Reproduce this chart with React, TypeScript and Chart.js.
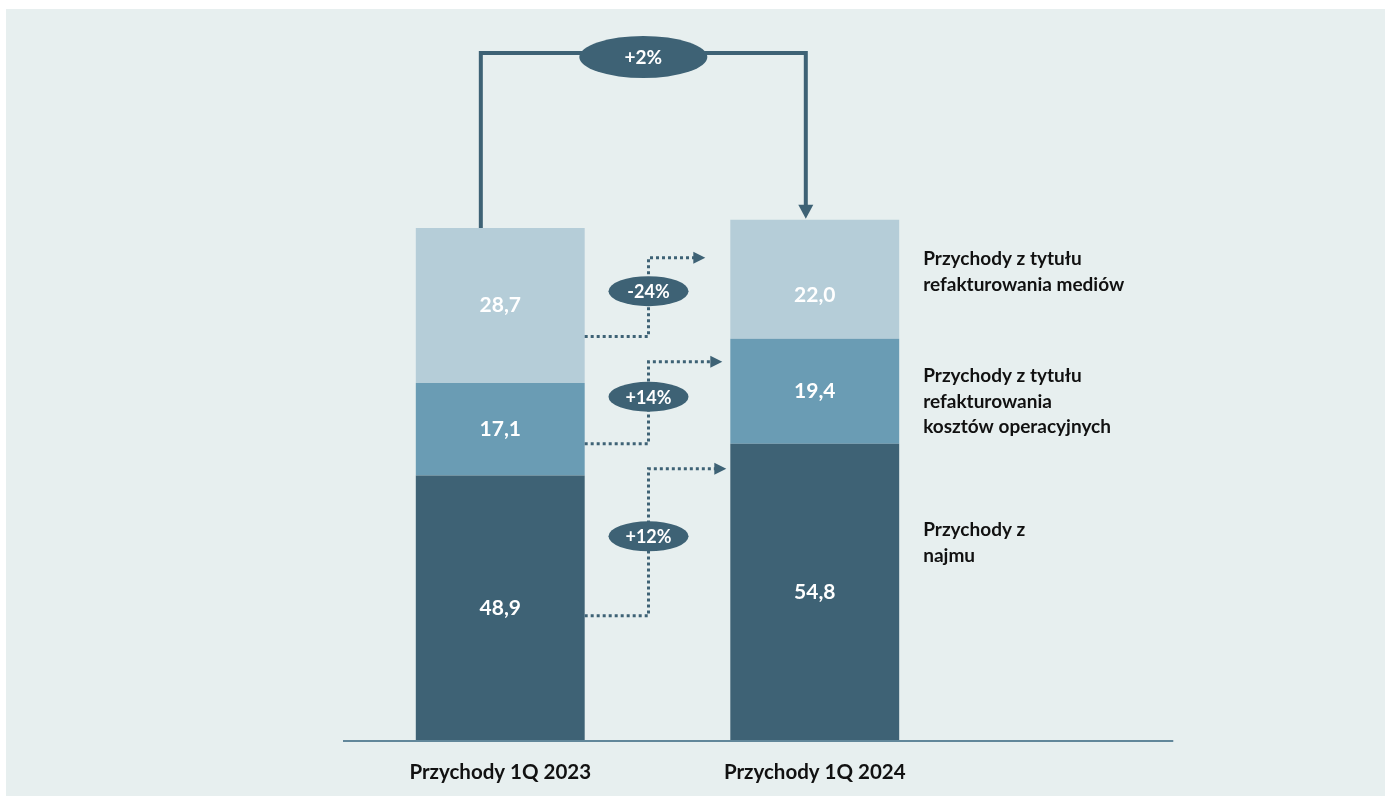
import React, { useEffect, useRef } from 'react';
import { Chart, registerables } from 'chart.js';

Chart.register(...registerables);

// ---- data ----
const categories = ['Przychody 1Q 2023', 'Przychody 1Q 2024'];
const seriesNames = [
  'Przychody z najmu',
  'Przychody z tytułu refakturowania kosztów operacyjnych',
  'Przychody z tytułu refakturowania mediów',
];
const seriesLabelLines = [
  ['Przychody z', 'najmu'],
  ['Przychody z tytułu', 'refakturowania', 'kosztów operacyjnych'],
  ['Przychody z tytułu', 'refakturowania mediów'],
];
const najmu = [48.9, 54.8];
const kosztyOperacyjne = [17.1, 19.4];
const media = [28.7, 22.0];
const seriesChanges = ['+12%', '+14%', '-24%'];
const totalChange = '+2%';
const yMax = 130;

// ---- style ----
const DARK = '#3e6275';
const MID = '#6a9cb4';
const LIGHT = '#b5cdd8';
const PANEL = '#e7efef';
const FONT = 'Lato, "Open Sans", sans-serif';

const fmt = (v: number) => v.toFixed(1).replace('.', ',');

const annotatePlugin = {
  id: 'annotate',
  afterDatasetsDraw(chart: any, _args: any, opts: any) {
    const ctx: CanvasRenderingContext2D = chart.ctx;
    const ys = chart.scales.y;
    const area = chart.chartArea;
    const n = chart.data.datasets.length;
    const bar = (d: number, i: number) =>
      chart.getDatasetMeta(d).data[i].getProps(['x', 'y', 'base', 'width'], true);

    ctx.save();

    // baseline (axis line)
    const y0 = ys.getPixelForValue(0);
    const catW = (area.right - area.left) / chart.data.labels.length;
    ctx.strokeStyle = opts.axisColor;
    ctx.lineWidth = 2;
    ctx.beginPath();
    ctx.moveTo(area.left, y0 + 1);
    ctx.lineTo(area.right + catW * opts.axisExtend, y0 + 1);
    ctx.stroke();

    // value labels
    ctx.fillStyle = '#ffffff';
    ctx.font = `bold 21px ${FONT}`;
    ctx.textAlign = 'center';
    ctx.textBaseline = 'middle';
    for (let d = 0; d < n; d++) {
      const values = chart.data.datasets[d].data;
      for (let i = 0; i < values.length; i++) {
        const b = bar(d, i);
        const shift = opts.labelShift[`${d}-${i}`] || 0;
        ctx.fillText(fmt(values[i]), b.x, (b.y + b.base) / 2 + shift);
      }
    }

    // total connector
    const t1 = bar(n - 1, 0);
    const t2 = bar(n - 1, 1);
    const lx = t1.x - t1.width * 0.115;
    const rx = t2.x - t2.width * 0.053;
    const ty = area.top + 16;
    ctx.strokeStyle = DARK;
    ctx.fillStyle = DARK;
    ctx.lineWidth = 4;
    ctx.lineJoin = 'miter';
    ctx.beginPath();
    ctx.moveTo(lx, t1.y);
    ctx.lineTo(lx, ty);
    ctx.lineTo(rx, ty);
    ctx.lineTo(rx, t2.y - 14);
    ctx.stroke();
    ctx.beginPath();
    ctx.moveTo(rx - 7.5, t2.y - 15);
    ctx.lineTo(rx + 7.5, t2.y - 15);
    ctx.lineTo(rx, t2.y - 1);
    ctx.closePath();
    ctx.fill();
    const ex0 = (lx + rx) / 2;
    ctx.beginPath();
    ctx.ellipse(ex0, ty + 4, 64, 21, 0, 0, Math.PI * 2);
    ctx.fill();
    ctx.fillStyle = '#ffffff';
    ctx.font = `bold 19px ${FONT}`;
    ctx.fillText(opts.total, ex0, ty + 5);

    // per-series connectors
    for (let d = 0; d < n; d++) {
      const a = bar(d, 0);
      const b = bar(d, 1);
      const sy = a.base + (a.y - a.base) * opts.fromFrac[d];
      const ey = b.base + (b.y - b.base) * opts.toFrac[d];
      const sx = a.x + a.width / 2;
      const bLeft = b.x - b.width / 2;
      const tip = bLeft - opts.tipGap[d];
      const vx = (sx + bLeft) / 2 - 9;
      ctx.strokeStyle = DARK;
      ctx.fillStyle = DARK;
      ctx.lineWidth = 3;
      ctx.setLineDash([3, 3]);
      ctx.beginPath();
      ctx.moveTo(sx, sy);
      ctx.lineTo(vx, sy);
      ctx.lineTo(vx, ey);
      ctx.lineTo(tip - 11, ey);
      ctx.stroke();
      ctx.setLineDash([]);
      ctx.beginPath();
      ctx.moveTo(tip - 12, ey - 6);
      ctx.lineTo(tip - 12, ey + 6);
      ctx.lineTo(tip, ey);
      ctx.closePath();
      ctx.fill();
      const ecy = (sy + ey) / 2 - 6;
      ctx.beginPath();
      ctx.ellipse(vx, ecy, 40, 15, 0, 0, Math.PI * 2);
      ctx.fill();
      ctx.fillStyle = '#ffffff';
      ctx.font = `bold 18px ${FONT}`;
      ctx.textAlign = 'center';
      ctx.fillText(opts.changes[d], vx, ecy + 1);
    }

    // series labels right of the second bar
    ctx.fillStyle = '#111111';
    ctx.font = `bold 19px ${FONT}`;
    ctx.textAlign = 'left';
    ctx.textBaseline = 'middle';
    for (let d = 0; d < n; d++) {
      const b = bar(d, 1);
      const lines: string[] = opts.labelLines[d];
      const cy = b.base + (b.y - b.base) * opts.legendFrac[d];
      const lh = 25.5;
      lines.forEach((line, k) => {
        ctx.fillText(line, b.x + b.width / 2 + 24, cy + (k - (lines.length - 1) / 2) * lh);
      });
    }

    ctx.restore();
  },
};

export default function App() {
  const ref = useRef<HTMLCanvasElement | null>(null);

  useEffect(() => {
    document.documentElement.style.background = PANEL;
    document.body.style.margin = '0';
    if (!ref.current) return;
    const chart = new Chart(ref.current, {
      type: 'bar',
      data: {
        labels: categories,
        datasets: [
          { label: seriesNames[0], data: najmu, backgroundColor: DARK },
          { label: seriesNames[1], data: kosztyOperacyjne, backgroundColor: MID },
          { label: seriesNames[2], data: media, backgroundColor: LIGHT },
        ],
      },
      options: {
        responsive: false,
        animation: false,
        devicePixelRatio: 1,
        layout: { padding: { left: 343, right: 413, top: 37, bottom: 0 } },
        datasets: { bar: { categoryPercentage: 1, barPercentage: 0.537, borderWidth: 0 } },
        scales: {
          x: {
            stacked: true,
            grid: { display: false, drawTicks: false },
            border: { display: false },
            ticks: {
              padding: 20,
              color: '#111111',
              font: { family: FONT, weight: 'bold', size: 20.5 },
            },
            afterFit: (s: any) => {
              s.height = 56;
            },
          },
          y: { stacked: true, min: 0, max: yMax, display: false },
        },
        plugins: {
          legend: { display: false },
          tooltip: { enabled: false },
          annotate: {
            axisColor: '#62879a',
            axisExtend: 0.64,
            labelShift: { '2-1': 16 },
            total: totalChange,
            changes: seriesChanges,
            fromFrac: [0.47, 0.345, 0.3],
            toFrac: [0.915, 0.78, 0.68],
            tipGap: [4, 8, 25],
            legendFrac: [0.666, 0.4, 0.561],
            labelLines: seriesLabelLines,
          },
        } as any,
      },
      plugins: [annotatePlugin],
    });
    return () => chart.destroy();
  }, []);

  return (
    <div style={{ position: 'fixed', left: 0, top: 0, width: '100vw', height: '100vh', minWidth: 1385, minHeight: 796, background: '#ffffff', overflow: 'hidden' }}>
      <div style={{ position: 'absolute', left: 6, top: 9, right: -20, bottom: -20, background: PANEL }} />
      <canvas ref={ref} width={1385} height={796} style={{ position: 'absolute', left: 0, top: 0, width: 1385, height: 796 }} />
    </div>
  );
}
